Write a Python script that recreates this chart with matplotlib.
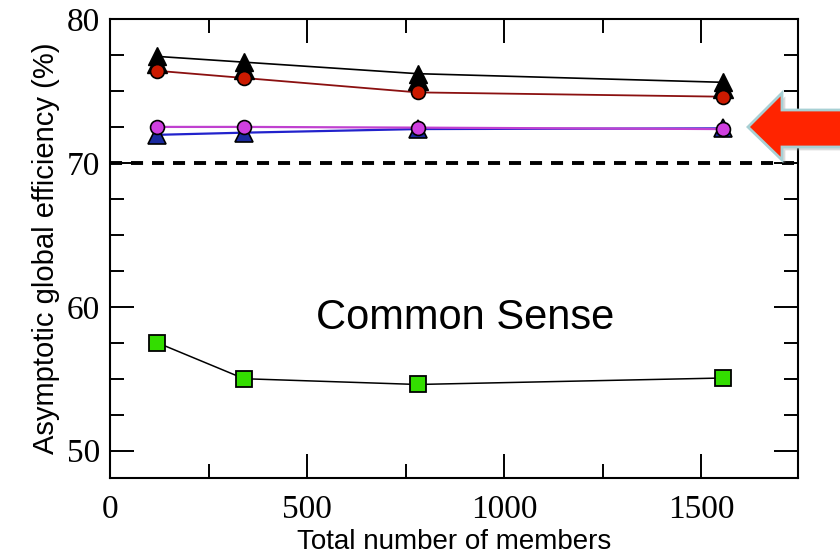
import matplotlib
matplotlib.use("Agg")
import matplotlib.pyplot as plt
from matplotlib.patches import Polygon
from matplotlib.ticker import MultipleLocator

# network size for each run
members = [120, 340, 780, 1555]

# asymptotic global efficiency (%) per strategy
eff_black = [77.4, 77.0, 76.2, 75.6]
eff_black_low = [76.95, 76.55, 75.75, 75.2]
eff_red = [76.4, 75.9, 74.9, 74.6]
eff_blue = [71.95, 72.1, 72.35, 72.4]
eff_magenta = [72.5, 72.5, 72.45, 72.35]
eff_common = [57.5, 55.0, 54.6, 55.05]

threshold = 70

serif = "Liberation Serif"
sans = "Liberation Sans"

fig = plt.figure(figsize=(8.4, 5.6), dpi=100)
ax = fig.add_axes([110 / 840, 82 / 560, 688 / 840, 459 / 560])

ax.axhline(threshold, color="black", lw=2.8, dashes=(3.1, 2.3), zorder=2)

ax.plot(members, eff_black, color="black", lw=1.2, zorder=3)
ax.plot(members, eff_red, color="#8b1010", lw=1.3, zorder=3)
ax.plot(members, eff_blue, color="#2222cc", lw=1.6, zorder=3)
ax.plot(members, eff_magenta, color="#c040d0", lw=1.6, zorder=3)
ax.plot(members, eff_common, color="black", lw=1.1, zorder=3)

ax.plot(members, eff_black, "^", ms=13, color="black", zorder=4)
ax.plot(members, eff_black_low, "^", ms=15, color="black", zorder=4)
ax.plot(members, eff_red, "o", ms=10, mfc="#cc1a00", mec="black", mew=1.2, zorder=5)
ax.plot(members, eff_blue, "^", ms=13, mfc="#1a2aa0", mec="black", mew=1.2, zorder=4)
ax.plot(members, eff_magenta, "o", ms=10, mfc="#d040e0", mec="black", mew=1.2, zorder=5)
ax.plot(members, eff_common, "s", ms=11, mfc="#33dd00", mec="black", mew=1.3, zorder=5)

ax.text(900, 59.2, "Common Sense", fontsize=30, family=sans, ha="center", va="center")

ax.set_xlim(0, 1745)
ax.set_ylim(48.1, 80)
ax.xaxis.set_major_locator(MultipleLocator(500))
ax.xaxis.set_minor_locator(MultipleLocator(250))
ax.yaxis.set_major_locator(MultipleLocator(10))
ax.yaxis.set_minor_locator(MultipleLocator(2.5))

ax.tick_params(which="both", direction="in", top=True, right=True, width=1.4)
ax.tick_params(which="major", length=17)
ax.tick_params(which="minor", length=10)
ax.tick_params(axis="x", pad=12)
ax.tick_params(axis="y", pad=7)
for lab in ax.get_xticklabels() + ax.get_yticklabels():
    lab.set_fontfamily(serif)
    lab.set_fontsize(24)
for sp in ax.spines.values():
    sp.set_linewidth(1.5)

ax.set_xlabel("Total number of members", fontsize=20, family=sans, labelpad=3)
ax.set_ylabel("Asymptotic global efficiency (%)", fontsize=21, family=sans, labelpad=5)

# pointer at the top group of curves
pts = [(748, 127), (782, 93), (782, 110), (845, 110), (845, 147), (782, 147), (782, 160)]
shadow = Polygon([(x / 840 + 0.004, 1 - y / 560 - 0.006) for x, y in pts],
                 closed=True, transform=fig.transFigure, facecolor="#999999",
                 alpha=0.35, edgecolor="none", clip_on=False)
arrow = Polygon([(x / 840, 1 - y / 560) for x, y in pts], closed=True,
                transform=fig.transFigure, facecolor="#ff2400",
                edgecolor="#a8d0d4", lw=2, clip_on=False, joinstyle="miter")
fig.patches.append(shadow)
fig.patches.append(arrow)

fig.savefig("out.png", dpi=100)
